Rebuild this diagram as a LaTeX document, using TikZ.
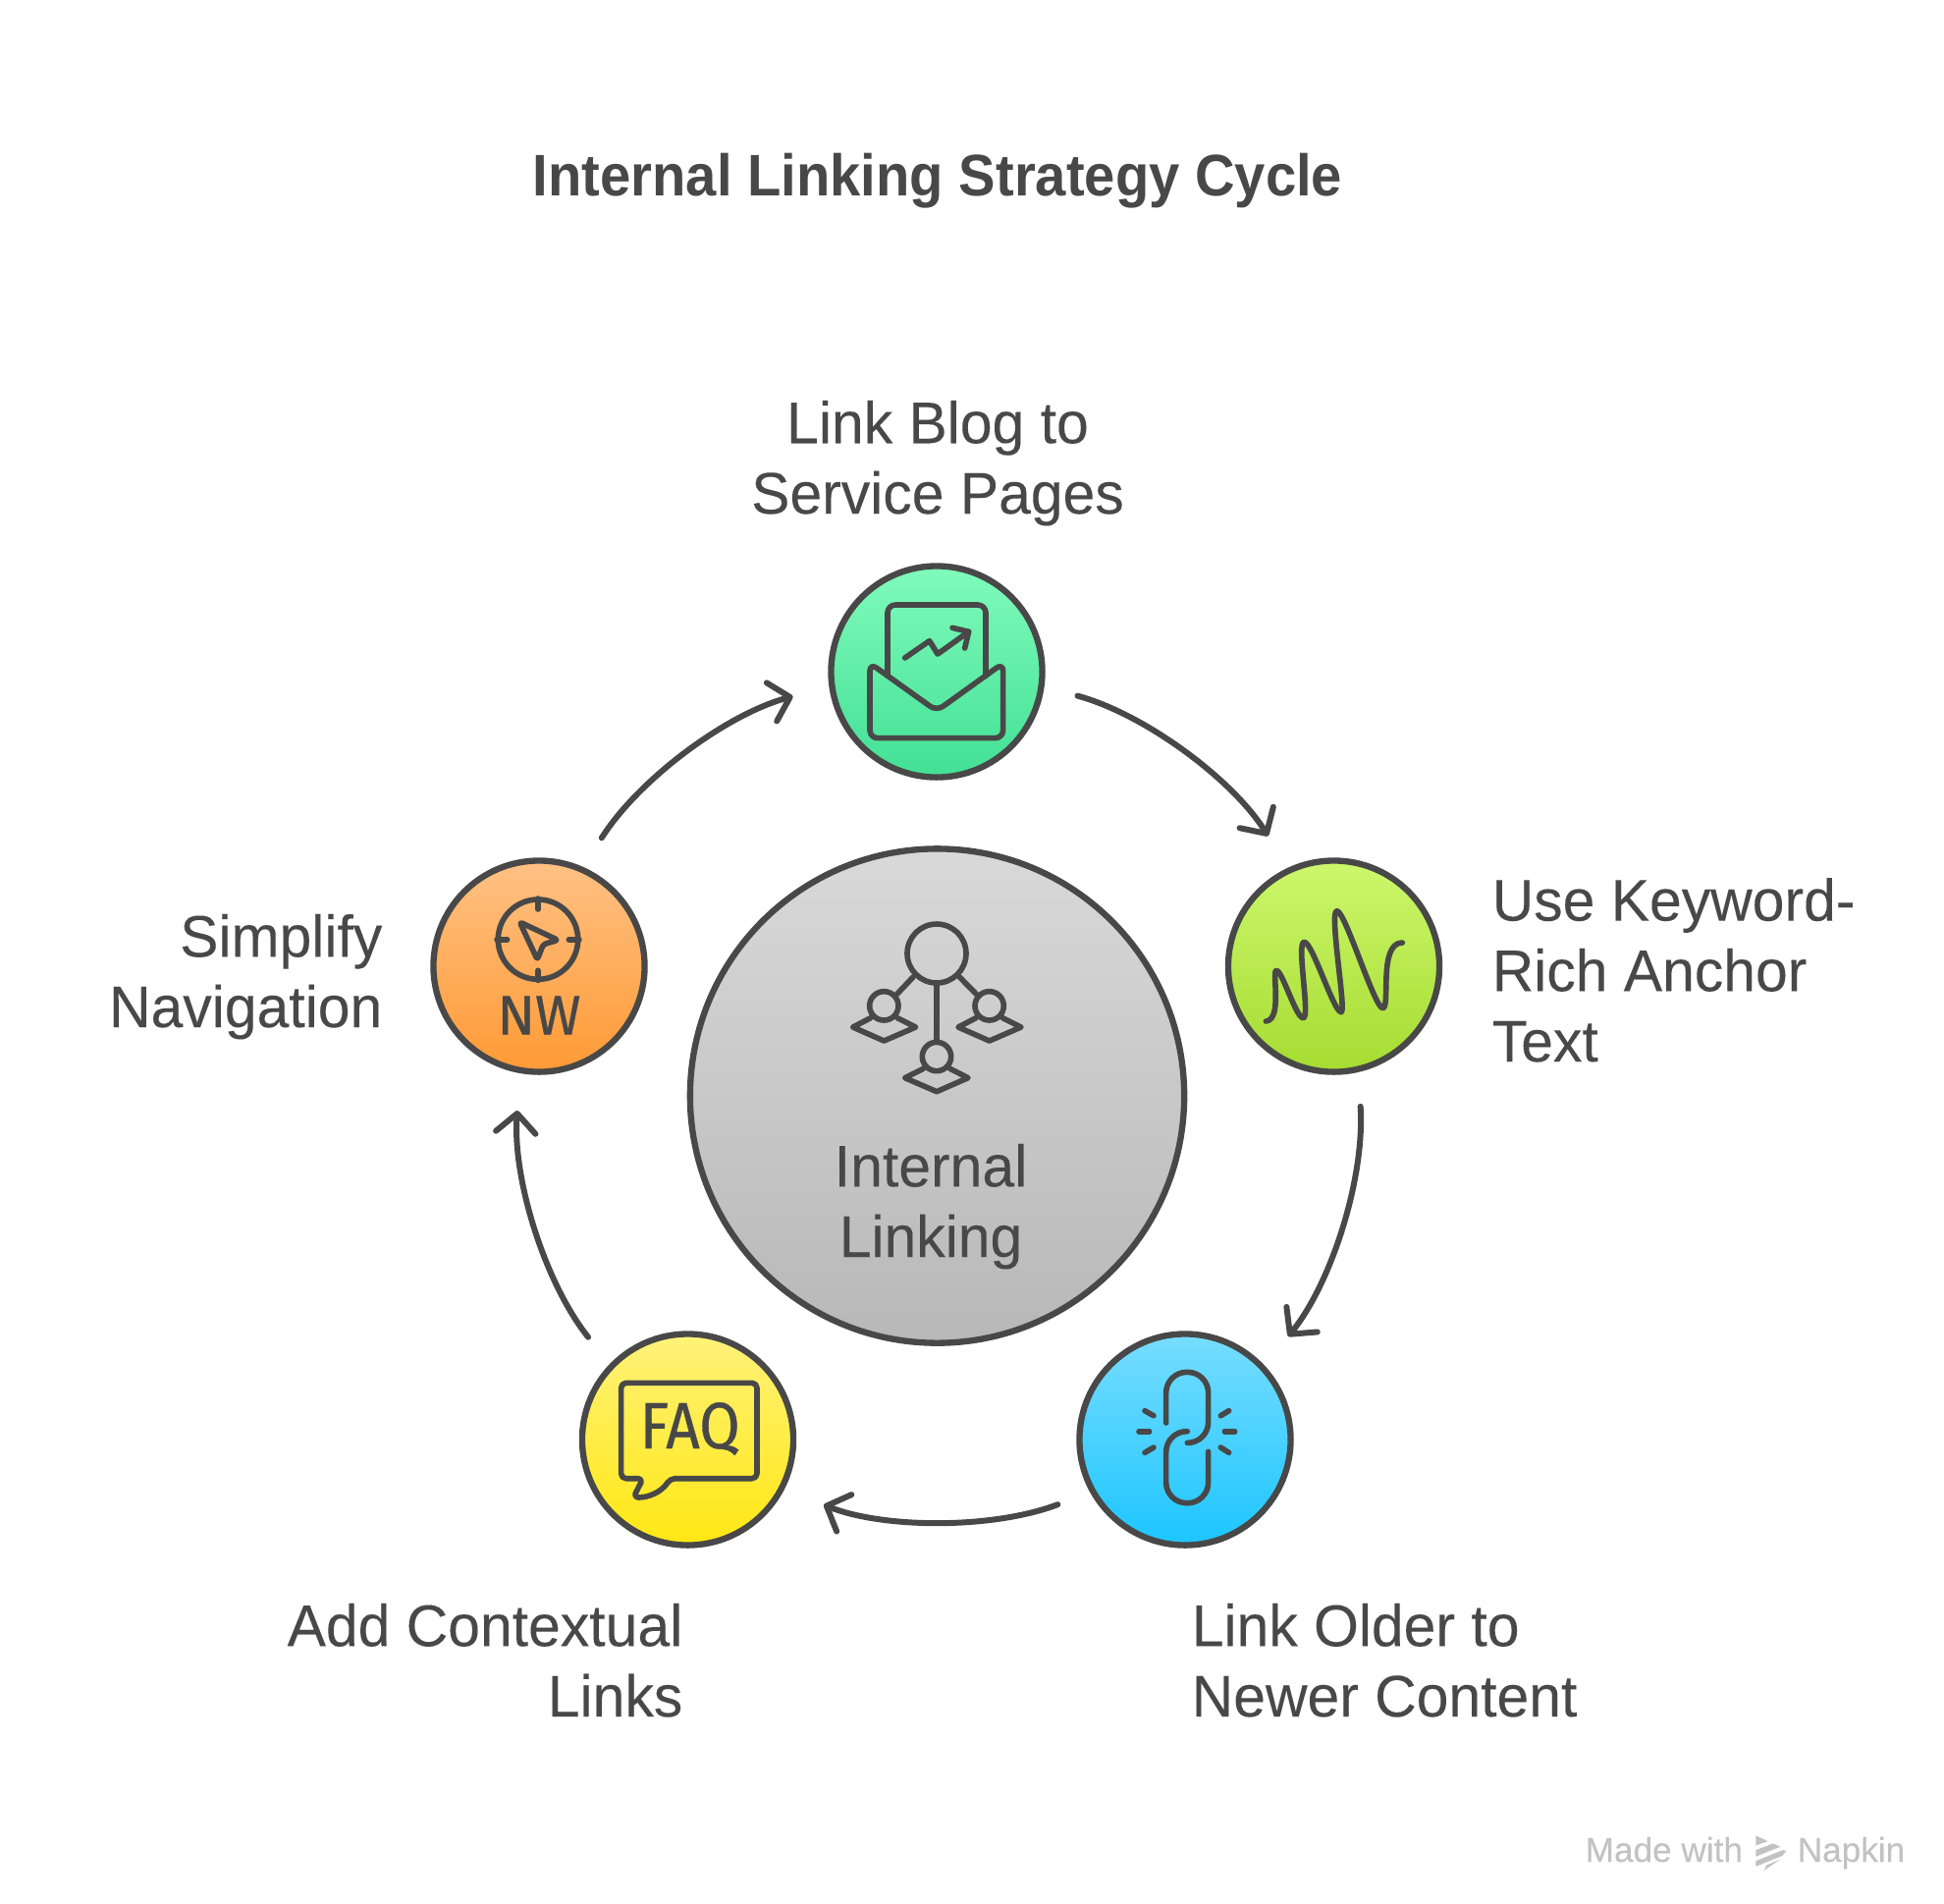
\documentclass[tikz,border=0pt]{standalone}
\usepackage{fontspec}
\setmainfont{Liberation Sans}
\newfontfamily\labelfamily[FakeBold=0.12,FakeStretch=0.985]{Liberation Sans}
\newfontfamily\titlefamily[FakeStretch=0.94]{Liberation Sans}
\newfontfamily\iconfamily[FakeBold=0.6]{Fira Sans}
\newfontfamily\markfamily[FakeBold=0.3]{Liberation Sans}
\usetikzlibrary{
    arrows.meta,
    positioning
}
\definecolor{inkgray}{HTML}{484848}
\definecolor{markgray}{HTML}{C2C2C2}
\tikzset{
    stepcircle/.style={circle,draw=inkgray,line width=1.8pt,minimum size=2.15cm,inner sep=0pt},
    hubcircle/.style={stepcircle,minimum size=5.03cm},
    steplabel/.style={font=\labelfamily\fontsize{17}{20.4}\selectfont,text=inkgray,inner sep=0pt},
    marklabel/.style={font=\markfamily\fontsize{10}{12}\selectfont,text=markgray,inner sep=0pt,anchor=base west},
    cyclearrow/.style={draw=inkgray,line width=1.7pt,line cap=round,shorten >=0.38cm,shorten <=0.35cm,
        -{Straight Barb[length=5.5pt,width=11.5pt,line width=1.7pt,round]},bend left=21.4,looseness=0.88},
    iconline/.style={draw=inkgray,line width=1.6pt,line cap=round,line join=round}
}
\begin{document}
\begin{tikzpicture}[x=0.01cm,y=-0.01cm]
    \useasboundingbox (0,0) rectangle (1980,1938);
    \node[font=\titlefamily\bfseries\fontsize{17}{20}\selectfont,text=inkgray,inner sep=0pt,anchor=base] (title) at (955,199) {Internal Linking Strategy Cycle};

    \node[hubcircle,top color=black!15,bottom color=black!28] (hub) at (954.5,1116) {};
    \node[stepcircle,top color={rgb,255:red,128;green,251;blue,187},bottom color={rgb,255:red,66;green,224;blue,149}] (blog) at (954,684) {};
    \node[stepcircle,top color={rgb,255:red,204;green,247;blue,108},bottom color={rgb,255:red,166;green,220;blue,49}] (keyword) at (1358.5,984) {};
    \node[stepcircle,top color={rgb,255:red,119;green,221;blue,255},bottom color={rgb,255:red,28;green,197;blue,255}] (older) at (1207,1466) {};
    \node[stepcircle,top color={rgb,255:red,255;green,242;blue,122},bottom color={rgb,255:red,255;green,231;blue,18}] (contextual) at (700.5,1466) {};
    \node[stepcircle,top color={rgb,255:red,255;green,193;blue,132},bottom color={rgb,255:red,255;green,154;blue,53}] (navigation) at (549,984) {};

    \draw[cyclearrow] (blog.-8.5) to (keyword.115.3);
    \draw[cyclearrow] (keyword.-77.5) to (older.43.3);
    \draw[cyclearrow,shorten >=0.43cm] (older.-151.3) to (contextual.-27);
    \draw[cyclearrow] (contextual.136.7) to (navigation.-100.7);
    \draw[cyclearrow] (navigation.66) to (blog.188);

    \node[steplabel,align=center,anchor=base] (bloglabel) at (955,523) {Link Blog to\\Service Pages};
    \node[steplabel,align=left,anchor=base west] (keywordlabel) at (1519,1081) {Use Keyword-\\Rich Anchor\\Text};
    \node[steplabel,align=left,anchor=base west] (olderlabel) at (1213,1748) {Link Older to\\Newer Content};
    \node[steplabel,align=right,anchor=base east] (contextuallabel) at (696,1748) {Add Contextual\\Links};
    \node[steplabel,align=right,anchor=base east] (navigationlabel) at (390,1046) {Simplify\\Navigation};
    \node[steplabel,align=center,anchor=base] (hublabel) at (948,1280) {Internal\\Linking};

    % envelope
    \begin{scope}[shift={(820,550)},scale=0.3333]
        \draw[iconline,rounded corners=0.08cm] (252,415) -- (252,198) -- (552,198) -- (552,415);
        \draw[iconline,rounded corners=0.08cm] (198,376) -- (402,522) -- (605,376) -- (605,605) -- (198,605) -- cycle;
        \draw[iconline] (305,360) -- (380,308) -- (405,348) -- (500,280);
        \draw[iconline] (450,268) -- (500,280) -- (488,330);
    \end{scope}
    % squiggle
    \begin{scope}[shift={(1230,860)},scale=0.3333]
        \draw[iconline] (178,540) .. controls (230,535) and (195,385) .. (210,385)
            .. controls (228,385) and (270,530) .. (292,530)
            .. controls (315,530) and (270,298) .. (295,298)
            .. controls (320,298) and (385,512) .. (408,512)
            .. controls (425,512) and (370,203) .. (395,203)
            .. controls (420,203) and (510,500) .. (535,500)
            .. controls (560,500) and (520,300) .. (595,300);
    \end{scope}
    % chain
    \begin{scope}[shift={(1080,1340)},scale=0.3333]
        \draw[iconline,rounded corners=0.21cm] (323,327) -- (323,172) -- (452,172) -- (452,388) -- (388,388);
        \draw[iconline,rounded corners=0.21cm] (452,415) -- (452,572) -- (323,572) -- (323,353) -- (388,353);
        \foreach \ya/\yb in {290/305,418/402} {
            \draw[iconline] (258,\ya) -- (285,\yb);
            \draw[iconline] (515,\ya) -- (490,\yb);
        }
        \draw[iconline] (240,353) -- (272,353) (502,353) -- (533,353);
    \end{scope}
    % speech bubble
    \begin{scope}[shift={(570,1340)},scale=0.3333]
        \draw[iconline,rounded corners=0.05cm] (255,497) -- (188,497) -- (188,205) -- (603,205) -- (603,497) -- (338,497)
            .. controls (310,540) and (270,555) .. (225,555) -- cycle;
        \node[font=\iconfamily\fontsize{19}{19}\selectfont,text=inkgray,xscale=0.9,inner sep=0pt] (faqtext) at (398,345) {FAQ};
    \end{scope}
    % compass
    \begin{scope}[shift={(420,860)},scale=0.3333]
        \draw[iconline] (384,290) circle (122);
        \draw[iconline] (384,165) -- (384,198) (384,385) -- (384,415) (258,290) -- (290,290) (478,290) -- (510,290);
        \draw[iconline,rounded corners=0.03cm] (328,237) -- (445,292) -- (400,305) -- (382,352) -- cycle;
        \node[font=\iconfamily\fontsize{16}{16}\selectfont,text=inkgray,inner sep=0pt] (nwtext) at (387,522) {NW};
    \end{scope}
    % hub icon
    \begin{scope}[shift={(840,920)},scale=0.3333]
        \draw[iconline] (342,153) circle (90);
        \draw[iconline] (181,313) circle (44);
        \draw[iconline] (503,313) circle (44);
        \draw[iconline] (342,468) circle (44);
        \draw[iconline] (270,225) -- (218,280) (412,225) -- (466,280) (342,245) -- (342,424);
        \draw[iconline] (140,350) -- (86,378) -- (181,420) -- (278,378) -- (222,350);
        \draw[iconline] (462,350) -- (408,378) -- (503,420) -- (600,378) -- (544,350);
        \draw[iconline] (301,505) -- (245,533) -- (342,575) -- (438,533) -- (383,505);
    \end{scope}

    \node[marklabel] (madewith) at (1614,1896) {Made with};
    % logo
    \begin{scope}[shift={(1780,1860)},scale=0.3333]
        \fill[markgray] (25,28) -- (62,45) -- (25,58) -- cycle;
        \fill[markgray] (25,72) -- (78,52) -- (100,62) -- (25,92) -- cycle;
        \fill[markgray] (25,105) -- (108,72) -- (118,75) -- (105,90) -- (25,122) -- cycle;
        \fill[markgray] (50,135) -- (58,118) -- (100,100) -- cycle;
    \end{scope}
    \node[marklabel] (napkin) at (1830,1896) {Napkin};
\end{tikzpicture}
\end{document}
